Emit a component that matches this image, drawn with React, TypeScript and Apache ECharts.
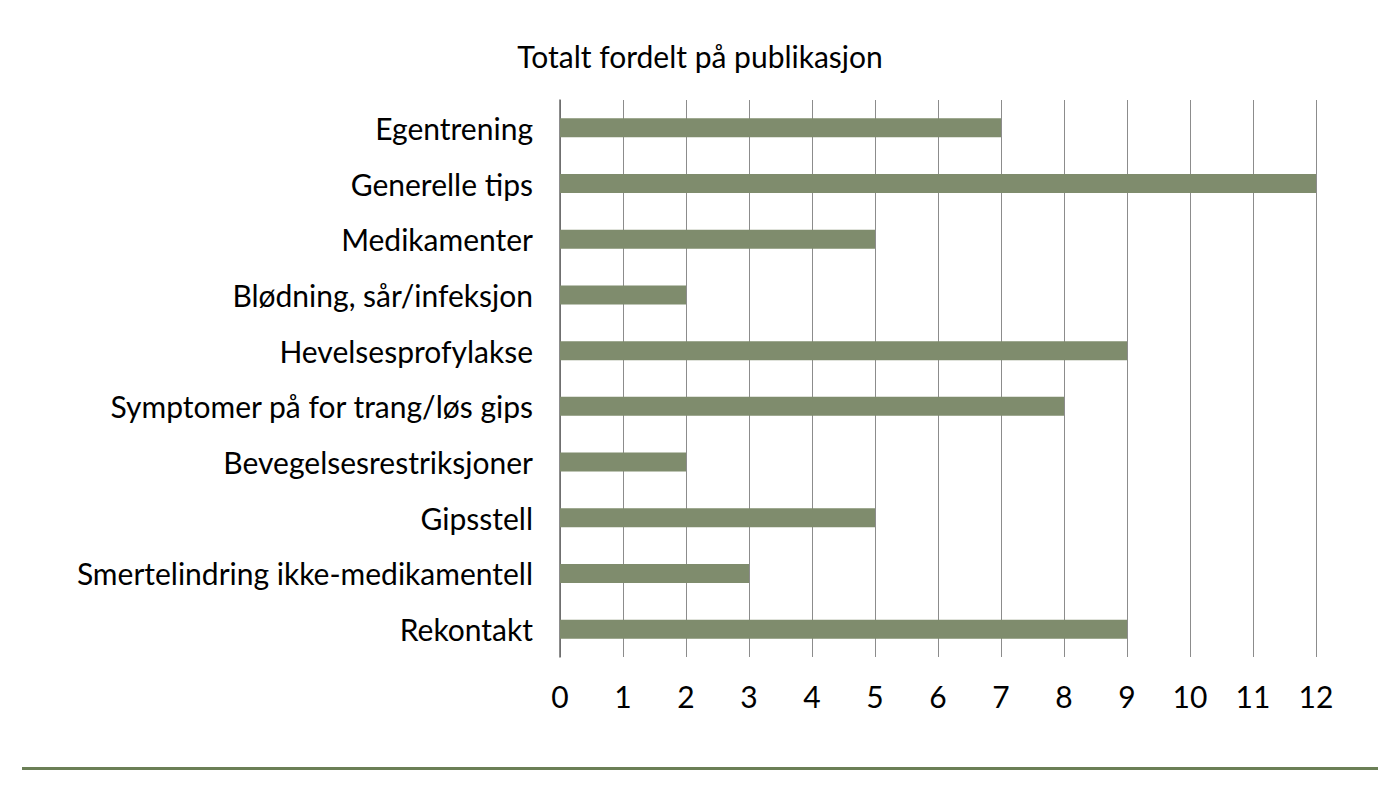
import React, { useEffect, useRef } from "react";
import * as echarts from "echarts";

const categories = [
  "Egentrening",
  "Generelle tips",
  "Medikamenter",
  "Blødning, sår/infeksjon",
  "Hevelsesprofylakse",
  "Symptomer på for trang/løs gips",
  "Bevegelsesrestriksjoner",
  "Gipsstell",
  "Smertelindring ikke-medikamentell",
  "Rekontakt",
];
const values = [7, 12, 5, 2, 9, 8, 2, 5, 3, 9];
const titleText = "Totalt fordelt på publikasjon";

export default function App() {
  const ref = useRef<HTMLDivElement>(null);
  useEffect(() => {
    if (!ref.current) return;
    const chart = echarts.init(ref.current, undefined, { renderer: "svg" });
    const font = "Lato, 'Open Sans', sans-serif";
    chart.setOption({
      animation: false,
      title: {
        text: titleText,
        left: "center",
        top: 36,
        textStyle: { fontFamily: font, fontSize: 30, fontWeight: "normal", color: "#000" },
      },
      grid: { left: 560, right: 84, top: 100, bottom: 129, containLabel: false },
      xAxis: {
        type: "value",
        min: 0,
        max: 12,
        interval: 1,
        axisLine: { show: false },
        axisTick: { show: false },
        splitLine: { show: true, lineStyle: { color: "#8c8c8c", width: 1 } },
        axisLabel: { fontFamily: font, fontSize: 30, color: "#000", margin: 24 },
      },
      yAxis: {
        type: "category",
        data: categories,
        inverse: true,
        axisLine: { show: true, lineStyle: { color: "#666", width: 1.5 } },
        axisTick: { show: false },
        axisLabel: { fontFamily: font, fontSize: 30, color: "#000", margin: 27, padding: [0, 0, 3, 0] },
      },
      series: [
        {
          type: "bar",
          data: values,
          barWidth: 19,
          itemStyle: { color: "#7f8c6d" },
        },
      ],
      graphic: [
        {
          type: "line",
          shape: { x1: 22, y1: 768.5, x2: 1378, y2: 768.5 },
          style: { stroke: "#6b7f56", lineWidth: 3 },
        },
      ],
    });
    return () => chart.dispose();
  }, []);
  return <div ref={ref} style={{ width: 1400, height: 786, position: "absolute", left: 0, top: 0 }} />;
}
